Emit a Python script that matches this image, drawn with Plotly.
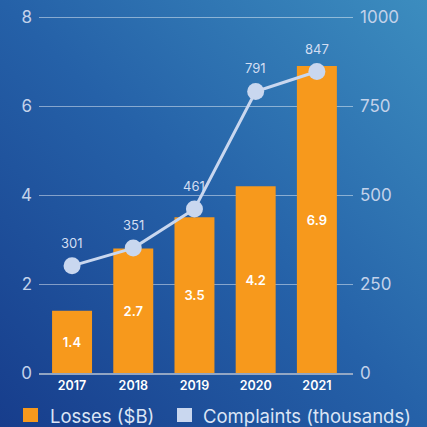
import plotly.graph_objects as go
import base64

years = ["2017", "2018", "2019", "2020", "2021"]
losses = [1.4, 2.8, 3.5, 4.2, 6.9]
loss_labels = ["1.4", "2.7", "3.5", "4.2", "6.9"]
complaints = [301, 351, 461, 791, 847]
complaint_labels = ["301", "351", "461", "791", "847"]
left_ticks = [0, 2, 4, 6, 8]
right_ticks = [0, 250, 500, 750, 1000]
legend_names = ["Losses ($B)", "Complaints (thousands)"]
legend_colors = ["#f7991c", "#c9d7ef"]

W, H = 427, 427
ml, mr, mt, mb = 39, 74, 16, 54
pw, ph = W - ml - mr, H - mt - mb
pad = 1.003  # tiny headroom so the top gridline is drawn


def px_x(px):
    return (px - ml) / pw


def px_y(py):
    return (H - mb - py) / ph


svg = (
    '<svg xmlns="http://www.w3.org/2000/svg" width="427" height="427" viewBox="0 0 427 427" preserveAspectRatio="none">'
    '<defs><linearGradient id="g" x1="0" y1="1" x2="1" y2="0">'
    '<stop offset="0" stop-color="#173d8c"/>'
    '<stop offset="0.5" stop-color="#2561a8"/>'
    '<stop offset="1" stop-color="#3c8dbf"/>'
    '</linearGradient></defs>'
    '<rect width="427" height="427" fill="url(#g)"/></svg>'
)
bg_uri = "data:image/svg+xml;base64," + base64.b64encode(svg.encode()).decode()

fig = go.Figure()
fig.add_trace(go.Bar(
    x=years, y=losses, name=legend_names[0],
    marker=dict(color=legend_colors[0], line=dict(width=0)),
    width=0.653,
    text=loss_labels, textposition="inside", insidetextanchor="middle",
    textfont=dict(color="white", size=13, family="Inter", weight=600),
    showlegend=False,
))
fig.add_trace(go.Scatter(
    x=years, y=complaints, yaxis="y2", mode="lines+markers",
    name=legend_names[1],
    line=dict(color=legend_colors[1], width=3),
    marker=dict(color=legend_colors[1], size=17),
    showlegend=False, cliponaxis=False,
))

annotations = []
for i, (v, lab) in enumerate(zip(complaints, complaint_labels)):
    annotations.append(dict(
        x=i, y=v, xref="x", yref="y2", text=lab, showarrow=False,
        yshift=23, font=dict(color="#d3def2", size=13, family="Inter"),
    ))

shapes = []
legend_x = [(23, 48), (177, 201)]
for (sx, tx), name, col in zip(legend_x, legend_names, legend_colors):
    shapes.append(dict(
        type="rect", xref="paper", yref="paper",
        x0=px_x(sx), x1=px_x(sx + 15), y0=px_y(422), y1=px_y(408),
        fillcolor=col, line=dict(width=0), layer="above",
    ))
    annotations.append(dict(
        x=px_x(tx), y=px_y(415.5), xref="paper", yref="paper", text=name,
        showarrow=False, xanchor="left", yanchor="middle",
        font=dict(color="#dbe5f5", size=18.5, family="Inter"),
    ))

fig.update_layout(
    width=W, height=H,
    margin=dict(l=ml, r=mr, t=mt, b=mb, autoexpand=False),
    paper_bgcolor="#2561a8", plot_bgcolor="rgba(0,0,0,0)",
    showlegend=False,
    font=dict(family="Inter", color="#d3def2"),
    images=[dict(
        source=bg_uri, xref="paper", yref="paper",
        x=-ml / pw, y=1 + mt / ph, sizex=W / pw, sizey=H / ph,
        xanchor="left", yanchor="top", sizing="stretch", layer="below",
    )],
    xaxis=dict(
        type="category", range=[-0.54, 4.59], autorange=False,
        showgrid=False, showline=True, linecolor="rgba(160,175,200,0.9)", linewidth=2,
        tickfont=dict(color="white", size=12.5, family="Inter", weight=600),
        ticks="", automargin=False,
    ),
    yaxis=dict(
        range=[0, 8 * pad], tickvals=left_ticks, showgrid=True,
        gridcolor="rgba(255,255,255,0.45)", gridwidth=1, zeroline=False,
        tickfont=dict(color="#c3d2ea", size=17, family="Inter"),
        ticks="", ticklabelstandoff=6, automargin=False,
    ),
    yaxis2=dict(
        range=[0, 1000 * pad], tickvals=right_ticks, overlaying="y", side="right",
        showgrid=False, zeroline=False,
        tickfont=dict(color="#c3d2ea", size=17, family="Inter"),
        ticks="", ticklabelstandoff=6, automargin=False,
    ),
    annotations=annotations,
    shapes=shapes,
)

fig.write_html(
    "out.html",
    config={"displayModeBar": False},
    post_script="document.body.style.margin='0';document.body.style.overflow='hidden';",
)
